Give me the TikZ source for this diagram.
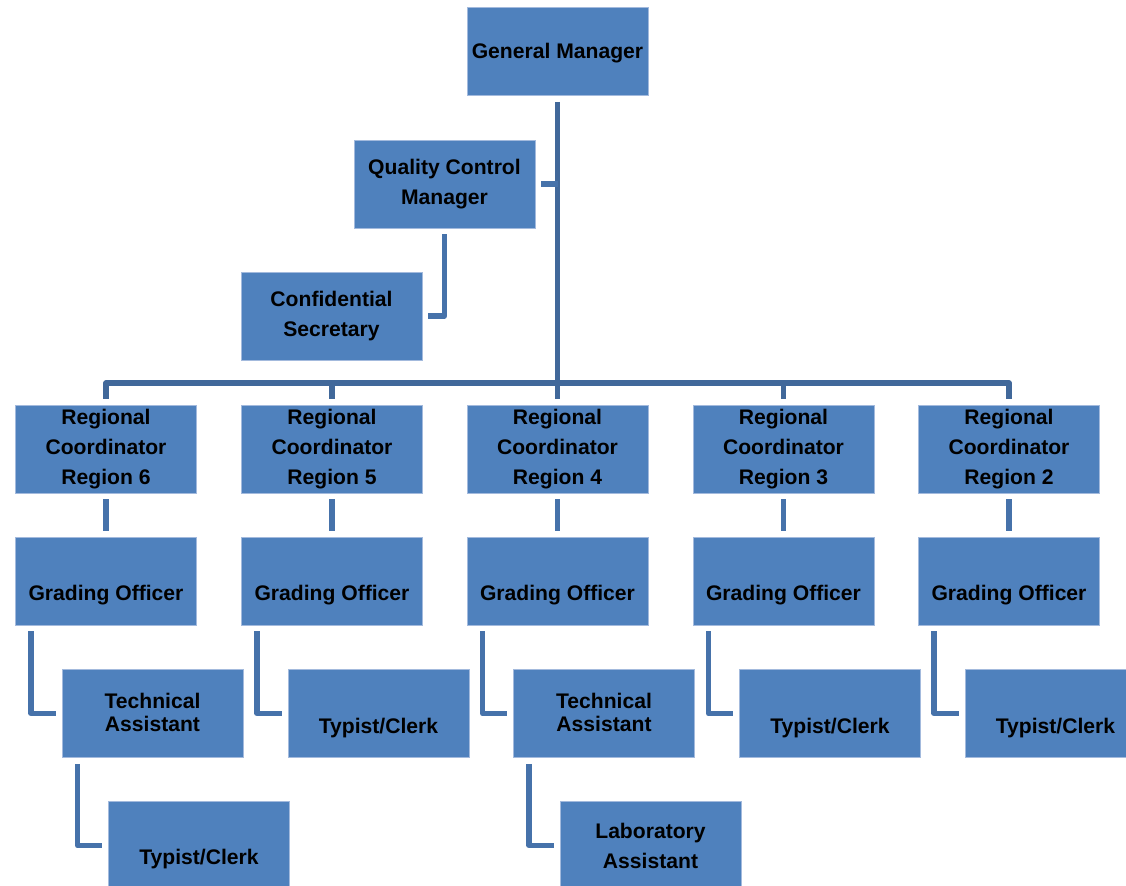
\documentclass[tikz,border=0pt]{standalone}
\usepackage{fontspec}
\setmainfont{Liberation Sans}
\usetikzlibrary{calc}
\definecolor{boxblue}{HTML}{4F81BD}
\definecolor{lineblue}{HTML}{4672AA}
\definecolor{trunkblue}{HTML}{41689A}
\definecolor{edgeblue}{HTML}{A3BADD}
\begin{document}
\begin{tikzpicture}[x=1bp,y=-1bp,
  box/.style={rectangle, fill=boxblue, draw=edgeblue, line width=0.6bp, minimum width=181bp, minimum height=88bp, inner sep=0pt},
  txt/.style={font=\fontsize{21.2}{30}\selectfont\bfseries, align=center, text=black, inner sep=0pt},
  txtt/.style={font=\fontsize{21.2}{23}\selectfont\bfseries, align=center, text=black, inner sep=0pt},
  conn/.style={draw=lineblue, line width=5.5bp, line join=round},
  trunk/.style={draw=trunkblue, line width=5.5bp, line join=round}]
\clip (0,0) rectangle (1126,886);
% top
\node[box, label={[txt,yshift=-1.5bp]center:General Manager}] (gm) at (557.5,51.5) {};
\node[box, label={[txt,yshift=0bp]center:Quality Control\\Manager}] (qcm) at (444.5,184) {};
\node[box, label={[txt,yshift=0bp]center:Confidential\\Secretary}] (cs) at (331.5,316) {};
% regions
\node[box, label={[txt,yshift=0bp]center:Regional\\Coordinator\\Region 6}] (r6) at (106,449) {};
\node[box, label={[txt,yshift=0bp]center:Regional\\Coordinator\\Region 5}] (r5) at (332,449) {};
\node[box, label={[txt,yshift=0bp]center:Regional\\Coordinator\\Region 4}] (r4) at (557.5,449) {};
\node[box, label={[txt,yshift=0bp]center:Regional\\Coordinator\\Region 3}] (r3) at (783.5,449) {};
\node[box, label={[txt,yshift=0bp]center:Regional\\Coordinator\\Region 2}] (r2) at (1009,449) {};
% grading
\node[box, label={[txt,yshift=-14bp]center:Grading Officer}] (g6) at (106,581) {};
\node[box, label={[txt,yshift=-14bp]center:Grading Officer}] (g5) at (332,581) {};
\node[box, label={[txt,yshift=-14bp]center:Grading Officer}] (g4) at (557.5,581) {};
\node[box, label={[txt,yshift=-14bp]center:Grading Officer}] (g3) at (783.5,581) {};
\node[box, label={[txt,yshift=-14bp]center:Grading Officer}] (g2) at (1009,581) {};
% third row
\node[box, label={[txtt,yshift=1bp]center:Technical\\Assistant}] (t6) at (152.5,713.5) {};
\node[box, label={[txt,yshift=-15bp]center:Typist/Clerk}] (t5) at (378.5,713.5) {};
\node[box, label={[txtt,yshift=1bp]center:Technical\\Assistant}] (t4) at (604,713.5) {};
\node[box, label={[txt,yshift=-15bp]center:Typist/Clerk}] (t3) at (830,713.5) {};
\node[box, label={[txt,yshift=-15bp]center:Typist/Clerk}] (t2) at (1055.5,713.5) {};
% fourth row
\node[box, label={[txt,yshift=-14bp]center:Typist/Clerk}] (b6) at (199,845.5) {};
\node[box, label={[txt,yshift=0bp]center:Laboratory\\Assistant}] (b4) at (650.5,845.5) {};
% connectors
\coordinate (bus) at (557.5,383);
\draw[trunk] ($(gm.south)+(0,6)$) -- (bus);
\draw[trunk] ($(r6.north)+(0,-6)$) |- (bus) -| ($(r2.north)+(0,-6)$);
\draw[trunk] ($(r5.north)+(0,-6)$) -- (r5.north |- bus);
\draw[trunk] ($(r4.north)+(0,-6)$) -- (r4.north |- bus);
\draw[trunk] ($(r3.north)+(0,-6)$) -- (r3.north |- bus);
\draw[conn] ($(qcm.east)+(6,0)$) -- (qcm.east -| bus);
\draw[conn] ($(qcm.south)+(0,6)$) |- ($(cs.east)+(6,0)$);
\foreach \i in {6,5,4,3,2}{
  \draw[conn] ($(r\i.south)+(0,6)$) -- ($(g\i.north)+(0,-6)$);
  \draw[conn] ($(g\i.south west)+(16,6)$) |- ($(t\i.west)+(-6,0)$);
}
\draw[conn] ($(t6.south west)+(16,6)$) |- ($(b6.west)+(-6,0)$);
\draw[conn] ($(t4.south west)+(16,6)$) |- ($(b4.west)+(-6,0)$);
\end{tikzpicture}
\end{document}
